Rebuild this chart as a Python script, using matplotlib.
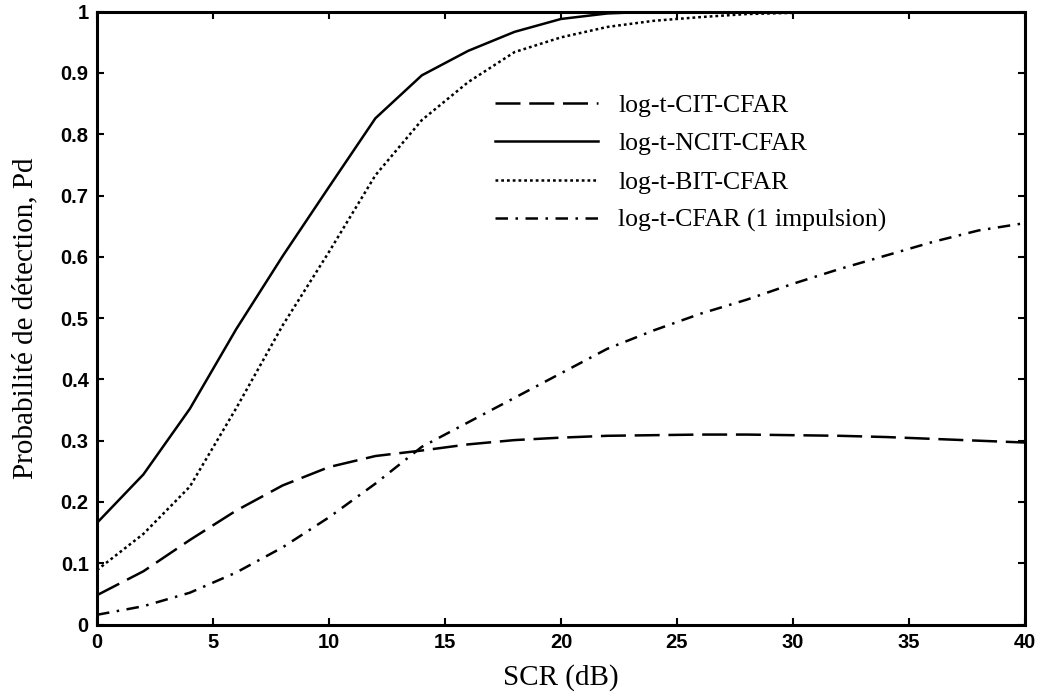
#!/usr/bin/env python3
import matplotlib
matplotlib.use("Agg")
import matplotlib.pyplot as plt

# SCR grid (dB) and detection probabilities
SCR_DB = [0, 2, 4, 6, 8, 10, 12, 14, 16, 18, 20, 22, 24, 26, 28, 30, 32, 34, 36, 38, 40]

PD_CIT = [0.048, 0.087, 0.138, 0.186, 0.227, 0.257, 0.275, 0.284, 0.294, 0.301, 0.305,
          0.308, 0.309, 0.310, 0.310, 0.309, 0.308, 0.306, 0.303, 0.300, 0.297]
PD_NCIT = [0.166, 0.245, 0.352, 0.482, 0.601, 0.714, 0.826, 0.896, 0.936, 0.967, 0.988,
           0.997, 1.0, 1.0, 1.0, 1.0, 1.0, 1.0, 1.0, 1.0, 1.0]
PD_BIT = [0.089, 0.148, 0.225, 0.353, 0.488, 0.608, 0.733, 0.823, 0.885, 0.934, 0.958,
          0.975, 0.985, 0.991, 0.996, 0.998, 1.0, 1.0, 1.0, 1.0, 1.0]
PD_SINGLE = [0.016, 0.030, 0.052, 0.085, 0.126, 0.175, 0.230, 0.290, 0.330, 0.370, 0.410,
             0.450, 0.480, 0.507, 0.530, 0.556, 0.580, 0.602, 0.624, 0.643, 0.655]

LABELS = ["log-t-CIT-CFAR", "log-t-NCIT-CFAR", "log-t-BIT-CFAR", "log-t-CFAR (1 impulsion)"]
X_TICKS = [0, 5, 10, 15, 20, 25, 30, 35, 40]
Y_TICKS = [0, 0.1, 0.2, 0.3, 0.4, 0.5, 0.6, 0.7, 0.8, 0.9, 1.0]
Y_TICK_LABELS = ["0", "0.1", "0.2", "0.3", "0.4", "0.5", "0.6", "0.7", "0.8", "0.9", "1"]

SERIF = ["Liberation Serif", "DejaVu Serif"]


def main():
    fig = plt.figure(figsize=(10.41, 6.95), dpi=100)
    ax = fig.add_axes([0.0932, 0.1013, 0.8914, 0.882])

    lw = 1.8
    ax.plot(SCR_DB, PD_CIT, color="black", lw=lw, dashes=(10, 3.5), label=LABELS[0])
    ax.plot(SCR_DB, PD_NCIT, color="black", lw=lw, linestyle="-", label=LABELS[1])
    ax.plot(SCR_DB, PD_BIT, color="black", lw=lw, dashes=(1.1, 1.2), label=LABELS[2])
    ax.plot(SCR_DB, PD_SINGLE, color="black", lw=lw, dashes=(5, 3, 1, 3), label=LABELS[3])

    ax.set_xlim(0, 40)
    ax.set_ylim(0, 1)
    ax.set_xticks(X_TICKS)
    ax.set_xticklabels([str(t) for t in X_TICKS])
    ax.set_yticks(Y_TICKS)
    ax.set_yticklabels(Y_TICK_LABELS)

    for s in ax.spines.values():
        s.set_linewidth(2.2)
    ax.tick_params(direction="in", length=5, width=1.5, top=True, right=True, pad=6)
    for lab in ax.get_xticklabels() + ax.get_yticklabels():
        lab.set_fontfamily("Liberation Sans")
        lab.set_fontweight("bold")
        lab.set_fontsize(14.5)

    ax.set_xlabel("SCR (dB)", family=SERIF, fontsize=21, labelpad=9)
    ax.set_ylabel("Probabilité de détection, Pd", family=SERIF, fontsize=21, labelpad=16)

    ax.legend(loc="upper left", bbox_to_anchor=(0.429, 0.866), frameon=False,
              prop={"family": SERIF, "size": 18.5}, handlelength=4.0,
              handletextpad=0.8, labelspacing=0.6, borderpad=0, borderaxespad=0)

    fig.savefig("out.png", dpi=100)


if __name__ == "__main__":
    main()
